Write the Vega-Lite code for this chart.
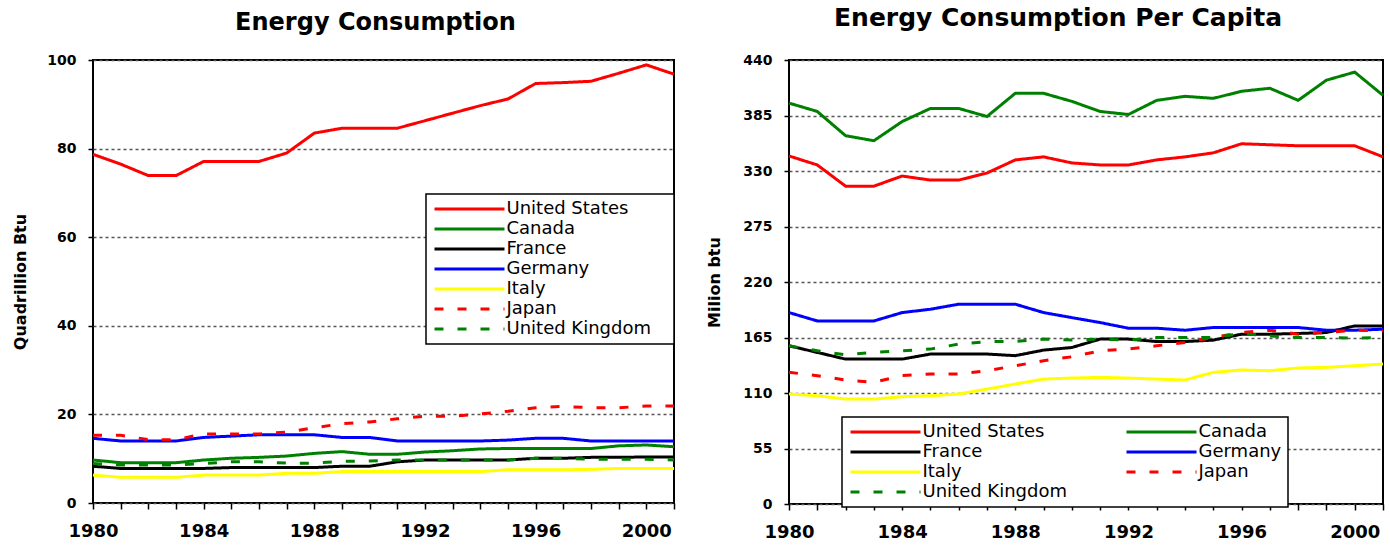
{
  "$schema": "https://vega.github.io/schema/vega-lite/v6.json",
  "padding": {"left": 11, "top": 5, "right": 2, "bottom": 2},
  "spacing": 24,
  "config": {
    "font": "DejaVu Sans",
    "view": {"stroke": "black", "strokeWidth": 2},
    "title": {"font": "DejaVu Sans", "fontWeight": "bold", "color": "black", "frame": "group", "anchor": "middle"},
    "axis": {
      "domain": false,
      "labelFont": "DejaVu Sans",
      "labelFontWeight": "bold",
      "labelColor": "black",
      "tickColor": "black",
      "tickWidth": 1.5,
      "titleFont": "DejaVu Sans",
      "titleFontWeight": "bold",
      "titleColor": "black",
      "labelFlush": false,
      "labelOverlap": false
    },
    "legend": {
      "orient": "none",
      "fillColor": "white",
      "strokeColor": "black",
      "strokeWidth": 1.5,
      "padding": 6,
      "symbolType": "M-7,0H7",
      "symbolSize": 100,
      "symbolStrokeWidth": 3,
      "symbolOffset": 28.5,
      "labelOffset": 28,
      "labelFont": "DejaVu Sans",
      "labelFontSize": 18,
      "labelColor": "black",
      "labelLimit": 400,
      "rowPadding": 2
    }
  },
  "resolve": {
    "scale": {"color": "independent", "strokeDash": "independent", "x": "independent", "y": "independent"},
    "legend": {"color": "independent", "strokeDash": "independent"}
  },
  "datasets": {
    "total": [
      {"year": 1980, "United States": 78.7, "Canada": 9.7, "France": 8.3, "Germany": 14.6, "Italy": 6.3, "Japan": 15.3, "United Kingdom": 8.9},
      {"year": 1981, "United States": 76.5, "Canada": 9.1, "France": 7.8, "Germany": 14.0, "Italy": 5.8, "Japan": 15.3, "United Kingdom": 8.6},
      {"year": 1982, "United States": 73.9, "Canada": 9.1, "France": 7.8, "Germany": 14.0, "Italy": 5.8, "Japan": 14.3, "United Kingdom": 8.6},
      {"year": 1983, "United States": 73.9, "Canada": 9.1, "France": 7.8, "Germany": 14.0, "Italy": 5.8, "Japan": 14.3, "United Kingdom": 8.6},
      {"year": 1984, "United States": 77.1, "Canada": 9.7, "France": 7.8, "Germany": 14.8, "Italy": 6.3, "Japan": 15.6, "United Kingdom": 8.9},
      {"year": 1985, "United States": 77.1, "Canada": 10.1, "France": 8.0, "Germany": 15.1, "Italy": 6.3, "Japan": 15.6, "United Kingdom": 9.3},
      {"year": 1986, "United States": 77.1, "Canada": 10.3, "France": 8.0, "Germany": 15.4, "Italy": 6.3, "Japan": 15.6, "United Kingdom": 9.3},
      {"year": 1987, "United States": 79.0, "Canada": 10.6, "France": 8.0, "Germany": 15.4, "Italy": 6.7, "Japan": 16.0, "United Kingdom": 9.0},
      {"year": 1988, "United States": 83.5, "Canada": 11.2, "France": 8.0, "Germany": 15.4, "Italy": 6.7, "Japan": 17.0, "United Kingdom": 9.0},
      {"year": 1989, "United States": 84.6, "Canada": 11.6, "France": 8.3, "Germany": 14.8, "Italy": 7.1, "Japan": 17.9, "United Kingdom": 9.4},
      {"year": 1990, "United States": 84.6, "Canada": 11.0, "France": 8.3, "Germany": 14.8, "Italy": 7.1, "Japan": 18.3, "United Kingdom": 9.5},
      {"year": 1991, "United States": 84.6, "Canada": 11.0, "France": 9.3, "Germany": 14.0, "Italy": 7.1, "Japan": 19.0, "United Kingdom": 9.7},
      {"year": 1992, "United States": 86.3, "Canada": 11.5, "France": 9.7, "Germany": 14.0, "Italy": 7.1, "Japan": 19.6, "United Kingdom": 9.7},
      {"year": 1993, "United States": 88.0, "Canada": 11.8, "France": 9.7, "Germany": 14.0, "Italy": 7.1, "Japan": 19.6, "United Kingdom": 9.7},
      {"year": 1994, "United States": 89.7, "Canada": 12.2, "France": 9.7, "Germany": 14.0, "Italy": 7.1, "Japan": 20.1, "United Kingdom": 9.7},
      {"year": 1995, "United States": 91.2, "Canada": 12.3, "France": 9.7, "Germany": 14.2, "Italy": 7.5, "Japan": 20.7, "United Kingdom": 9.7},
      {"year": 1996, "United States": 94.7, "Canada": 12.3, "France": 10.1, "Germany": 14.6, "Italy": 7.5, "Japan": 21.5, "United Kingdom": 10.1},
      {"year": 1997, "United States": 94.9, "Canada": 12.3, "France": 10.1, "Germany": 14.6, "Italy": 7.5, "Japan": 21.8, "United Kingdom": 10.1},
      {"year": 1998, "United States": 95.2, "Canada": 12.3, "France": 10.3, "Germany": 14.0, "Italy": 7.6, "Japan": 21.5, "United Kingdom": 9.9},
      {"year": 1999, "United States": 97.0, "Canada": 12.9, "France": 10.3, "Germany": 14.0, "Italy": 7.8, "Japan": 21.5, "United Kingdom": 9.9},
      {"year": 2000, "United States": 98.9, "Canada": 13.1, "France": 10.4, "Germany": 14.0, "Italy": 7.8, "Japan": 21.9, "United Kingdom": 9.9},
      {"year": 2001, "United States": 96.8, "Canada": 12.7, "France": 10.4, "Germany": 14.0, "Italy": 7.8, "Japan": 21.9, "United Kingdom": 9.7}
    ],
    "percap": [
      {"year": 1980, "United States": 344.9, "Canada": 397.3, "France": 156.8, "Germany": 189.7, "Italy": 109.0, "Japan": 130.5, "United Kingdom": 156.8},
      {"year": 1981, "United States": 336, "Canada": 389, "France": 150.2, "Germany": 181.4, "Italy": 107.3, "Japan": 127.2, "United Kingdom": 151.8},
      {"year": 1982, "United States": 315, "Canada": 365, "France": 143.6, "Germany": 181.4, "Italy": 104, "Japan": 122.9, "United Kingdom": 147.9},
      {"year": 1983, "United States": 315, "Canada": 360, "France": 143.6, "Germany": 181.4, "Italy": 104, "Japan": 120.6, "United Kingdom": 150.2},
      {"year": 1984, "United States": 325, "Canada": 379, "France": 143.6, "Germany": 189.7, "Italy": 106.3, "Japan": 127.2, "United Kingdom": 151.8},
      {"year": 1985, "United States": 321, "Canada": 392, "France": 148.6, "Germany": 193, "Italy": 107.3, "Japan": 128.8, "United Kingdom": 153.5},
      {"year": 1986, "United States": 321, "Canada": 392, "France": 148.6, "Germany": 198, "Italy": 109, "Japan": 128.8, "United Kingdom": 158.4},
      {"year": 1987, "United States": 328, "Canada": 384, "France": 148.6, "Germany": 198, "Italy": 113.9, "Japan": 132.1, "United Kingdom": 161},
      {"year": 1988, "United States": 341, "Canada": 407, "France": 147, "Germany": 198, "Italy": 118.9, "Japan": 137, "United Kingdom": 161},
      {"year": 1989, "United States": 344, "Canada": 407, "France": 152.5, "Germany": 189.7, "Italy": 123.8, "Japan": 142, "United Kingdom": 163.4},
      {"year": 1990, "United States": 338, "Canada": 399, "France": 155.1, "Germany": 184.7, "Italy": 124.8, "Japan": 145.9, "United Kingdom": 162.4},
      {"year": 1991, "United States": 336, "Canada": 389, "France": 163.4, "Germany": 179.8, "Italy": 125.5, "Japan": 151.8, "United Kingdom": 163.4},
      {"year": 1992, "United States": 336, "Canada": 386, "France": 163.4, "Germany": 174.2, "Italy": 124.8, "Japan": 153.5, "United Kingdom": 162.4},
      {"year": 1993, "United States": 341, "Canada": 400, "France": 161, "Germany": 174.2, "Italy": 123.8, "Japan": 156.8, "United Kingdom": 165},
      {"year": 1994, "United States": 344, "Canada": 404, "France": 161, "Germany": 172.2, "Italy": 122.9, "Japan": 160.1, "United Kingdom": 165},
      {"year": 1995, "United States": 348, "Canada": 402, "France": 162.4, "Germany": 174.9, "Italy": 130.5, "Japan": 165, "United Kingdom": 165},
      {"year": 1996, "United States": 357, "Canada": 409, "France": 168.3, "Germany": 174.9, "Italy": 132.8, "Japan": 169.9, "United Kingdom": 169},
      {"year": 1997, "United States": 356, "Canada": 412, "France": 168.3, "Germany": 174.9, "Italy": 132.1, "Japan": 172.2, "United Kingdom": 166.6},
      {"year": 1998, "United States": 355, "Canada": 400, "France": 169, "Germany": 174.9, "Italy": 134.8, "Japan": 168.3, "United Kingdom": 165},
      {"year": 1999, "United States": 355, "Canada": 420, "France": 169.9, "Germany": 172.2, "Italy": 135.4, "Japan": 169.9, "United Kingdom": 165},
      {"year": 2000, "United States": 355, "Canada": 428, "France": 176.5, "Germany": 172.2, "Italy": 137, "Japan": 172.2, "United Kingdom": 164.3},
      {"year": 2001, "United States": 344, "Canada": 405, "France": 176.5, "Germany": 173.2, "Italy": 138.7, "Japan": 171.6, "United Kingdom": 165}
    ]
  },
  "hconcat": [
    {
      "width": 581,
      "height": 443,
      "title": {"text": "Energy Consumption", "fontSize": 24, "offset": 18, "dx": -8},
      "data": {"name": "total"},
      "transform": [{"fold": ["United States", "Canada", "France", "Germany", "Italy", "Japan", "United Kingdom"], "as": ["country", "value"]}],
      "mark": {"type": "line", "strokeWidth": 3},
      "encoding": {
        "x": {
          "field": "year", "type": "quantitative",
          "scale": {"domain": [1980, 2001], "nice": false, "zero": false},
          "axis": {"title": null, "values": [1980,1981,1982,1983,1984,1985,1986,1987,1988,1989,1990,1991,1992,1993,1994,1995,1996,1997,1998,1999,2000,2001], "format": "d", "labelExpr": "datum.value % 4 === 0 ? datum.label : ''", "labelFontSize": 18, "tickSize": 6, "labelPadding": 13, "grid": false}
        },
        "y": {
          "field": "value", "type": "quantitative",
          "scale": {"domain": [0, 100], "nice": false},
          "axis": {"title": "Quadrillion Btu", "values": [0, 20, 40, 60, 80, 100], "labelFontSize": 14, "tickSize": 5, "labelPadding": 12, "titleFontSize": 16, "titlePadding": 18, "grid": true, "gridDash": [3, 3], "gridColor": "#555555", "gridWidth": 1.5}
        },
        "color": {
          "field": "country", "type": "nominal",
          "scale": {"domain": ["United States", "Canada", "France", "Germany", "Italy", "Japan", "United Kingdom"], "range": ["#ff0000", "#008000", "#000000", "#0000ff", "#ffff00", "#ff0000", "#008000"]},
          "legend": {"title": "\u00a0", "titleOrient": "right", "titlePadding": 17, "titleFontSize": 18, "legendX": 333, "legendY": 134, "direction": "vertical"}
        },
        "strokeDash": {
          "field": "country", "type": "nominal",
          "scale": {"domain": ["United States", "Canada", "France", "Germany", "Italy", "Japan", "United Kingdom"], "range": [[1, 0], [1, 0], [1, 0], [1, 0], [1, 0], [9, 14], [9, 14]]},
          "legend": {"title": "\u00a0", "titleOrient": "right", "titlePadding": 17, "titleFontSize": 18, "legendX": 333, "legendY": 134, "direction": "vertical"}
        }
      }
    },
    {
      "width": 594,
      "height": 444,
      "title": {"text": "Energy Consumption Per Capita", "fontSize": 25, "offset": 22, "dx": -28},
      "data": {"name": "percap"},
      "transform": [{"fold": ["United States", "Canada", "France", "Germany", "Italy", "Japan", "United Kingdom"], "as": ["country", "value"]}],
      "mark": {"type": "line", "strokeWidth": 3},
      "encoding": {
        "x": {
          "field": "year", "type": "quantitative",
          "scale": {"domain": [1980, 2001], "nice": false, "zero": false},
          "axis": {"title": null, "values": [1980,1981,1982,1983,1984,1985,1986,1987,1988,1989,1990,1991,1992,1993,1994,1995,1996,1997,1998,1999,2000,2001], "format": "d", "labelExpr": "datum.value % 4 === 0 ? datum.label : ''", "labelFontSize": 18, "tickSize": 6, "labelPadding": 13, "grid": false}
        },
        "y": {
          "field": "value", "type": "quantitative",
          "scale": {"domain": [0, 440], "nice": false},
          "axis": {"title": "Milion btu", "values": [0, 55, 110, 165, 220, 275, 330, 385, 440], "labelFontSize": 14, "tickSize": 5, "labelPadding": 12, "titleFontSize": 16, "titlePadding": 20, "grid": true, "gridDash": [3, 3], "gridColor": "#555555", "gridWidth": 1.5}
        },
        "color": {
          "field": "country", "type": "nominal",
          "scale": {"domain": ["United States", "Canada", "France", "Germany", "Italy", "Japan", "United Kingdom"], "range": ["#ff0000", "#008000", "#000000", "#0000ff", "#ffff00", "#ff0000", "#008000"]},
          "legend": {"title": null, "legendX": 53, "legendY": 357, "direction": "horizontal", "columns": 2, "columnPadding": 53, "labelExpr": "datum.label == 'Germany' ? datum.label + '              ' : datum.label"}
        },
        "strokeDash": {
          "field": "country", "type": "nominal",
          "scale": {"domain": ["United States", "Canada", "France", "Germany", "Italy", "Japan", "United Kingdom"], "range": [[1, 0], [1, 0], [1, 0], [1, 0], [1, 0], [9, 14], [9, 14]]},
          "legend": {"title": null, "legendX": 53, "legendY": 357, "direction": "horizontal", "columns": 2, "columnPadding": 53, "labelExpr": "datum.label == 'Germany' ? datum.label + '              ' : datum.label"}
        }
      }
    }
  ]
}
